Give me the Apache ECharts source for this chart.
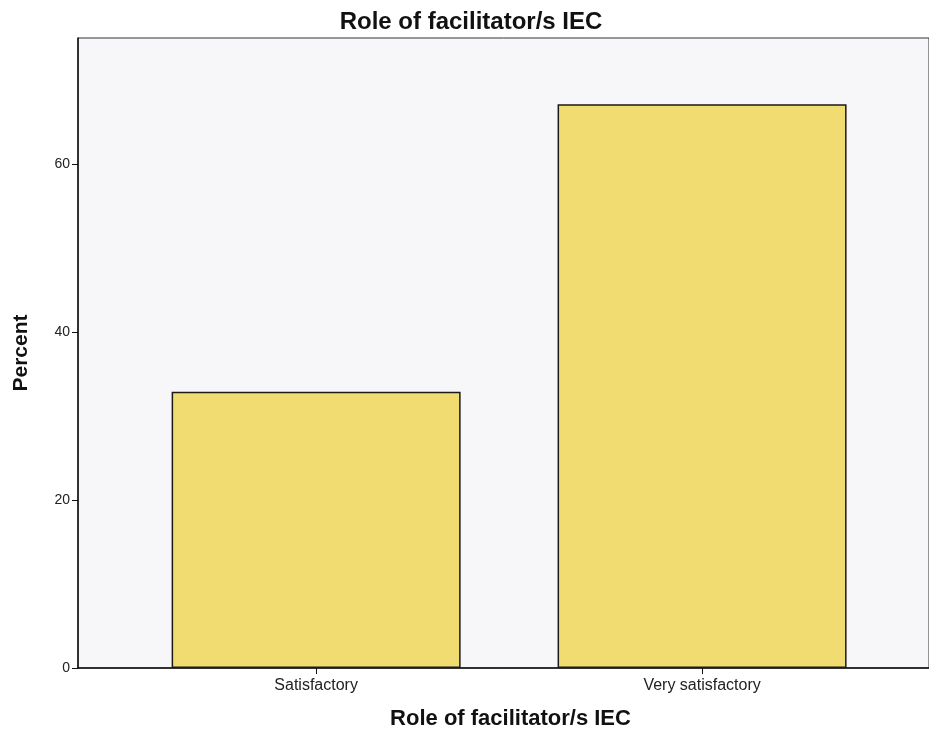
<!DOCTYPE html>
<html>
<head>
<meta charset="utf-8">
<script src="https://cdn.jsdelivr.net/npm/echarts@6/dist/echarts.min.js"></script>
<style>html,body{margin:0;padding:0;background:#fff;}#c{width:929px;height:736px;}</style>
</head>
<body>
<div id="c"></div>
<script>
const categories = ['Satisfactory', 'Very satisfactory'];
const percents = [32.9, 67.1];
const yTicks = [0, 20, 40, 60];
const titleText = 'Role of facilitator/s IEC';

const chart = echarts.init(document.getElementById('c'));
const positions = categories.map((_, i) => i + 1);
chart.setOption({
  animation: false,
  backgroundColor: '#ffffff',
  title: {
    text: titleText, left: 466, top: 5, textAlign: 'center',
    textStyle: { fontFamily: 'Liberation Sans', fontSize: 24, fontWeight: 'bold', color: '#111' }
  },
  grid: {
    left: 78, top: 38, bottom: 68, right: 0,
    show: true, backgroundColor: '#f7f7f9', borderColor: '#333', borderWidth: 1
  },
  xAxis: {
    type: 'value', min: 0.383, max: 2.588,
    name: titleText, nameLocation: 'middle', nameGap: 40,
    nameTextStyle: { fontFamily: 'Liberation Sans', fontSize: 22, fontWeight: 'bold', color: '#111', padding: [0, 0, 0, 14] },
    splitLine: { show: false },
    axisLine: { show: true, lineStyle: { color: '#111', width: 1.5 } },
    axisTick: { show: true, length: 6, lineStyle: { color: '#111' }, customValues: positions },
    axisLabel: {
      customValues: positions,
      formatter: v => categories[Math.round(v) - 1] || '',
      fontFamily: 'Liberation Sans', fontSize: 16, color: '#222', margin: 10
    }
  },
  yAxis: {
    type: 'value', min: 0, max: 75,
    name: 'Percent', nameLocation: 'middle', nameGap: 46, nameRotate: 90,
    nameTextStyle: { fontFamily: 'Liberation Sans', fontSize: 21, fontWeight: 'bold', color: '#111' },
    splitLine: { show: false },
    axisLine: { show: true, lineStyle: { color: '#111', width: 1.5 } },
    axisTick: { show: true, length: 6, lineStyle: { color: '#111' }, customValues: yTicks },
    axisLabel: {
      customValues: yTicks,
      fontFamily: 'Liberation Sans', fontSize: 14, color: '#222', margin: 8
    }
  },
  series: [{
    type: 'bar',
    data: positions.map((p, i) => [p, percents[i]]),
    barWidth: 289,
    itemStyle: { color: '#f1dc72', borderColor: '#1a1a1a', borderWidth: 1.5 }
  }]
});
</script>
</body>
</html>
